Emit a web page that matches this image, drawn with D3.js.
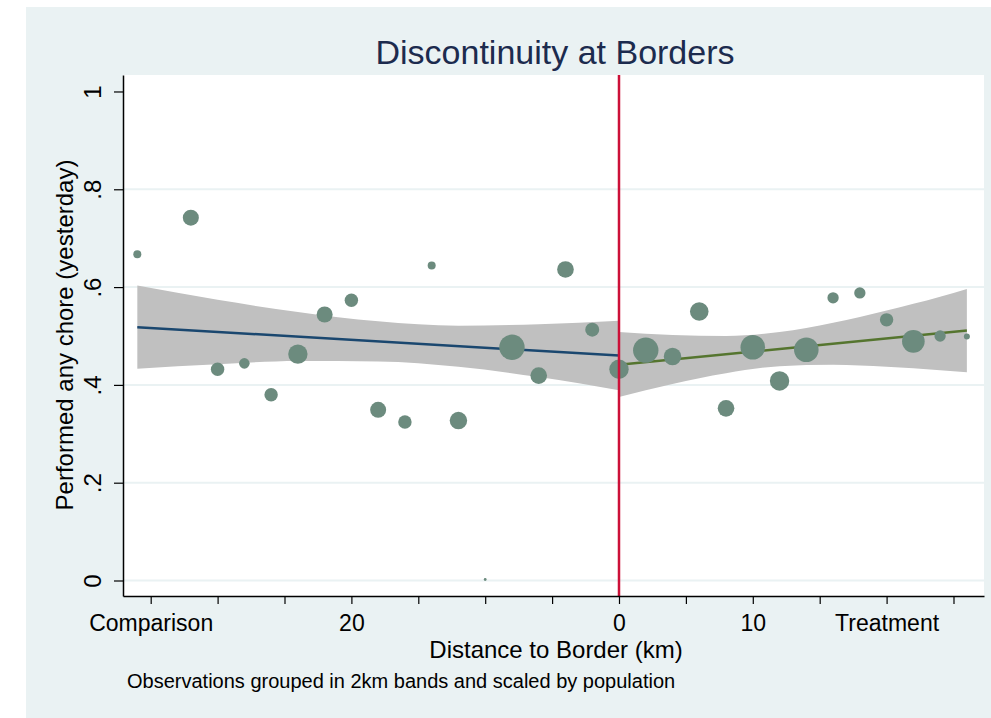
<!DOCTYPE html>
<html>
<head>
<meta charset="utf-8">
<script src="https://cdn.jsdelivr.net/npm/d3@7"></script>
<style>
  body { margin: 0; background: #fff; }
  svg { display: block; font-family: "Liberation Sans", Arial, sans-serif; }
</style>
</head>
<body>
<svg id="chart" width="991" height="718"></svg>
<script>
// binned observations (km from border, comparison side negative)
const bandKm = [-36, -32, -30, -28, -26, -24, -22, -20, -18, -16, -14, -12, -10, -8, -6, -4, -2, 0,
                2, 4, 6, 8, 10, 12, 14, 16, 18, 20, 22, 24, 26];
const choreShare = [0.667, 0.742, 0.432, 0.444, 0.380, 0.463, 0.544, 0.573, 0.349, 0.324, 0.644, 0.327, 0.002, 0.477, 0.419, 0.636, 0.513, 0.432,
                    0.471, 0.458, 0.550, 0.352, 0.477, 0.408, 0.472, 0.578, 0.588, 0.533, 0.489, 0.500, 0.499];
const popWeight = [16, 64, 45, 28, 45, 94, 64, 45, 64, 45, 16, 76, 2, 161, 69, 69, 49, 94,
                   161, 76, 86, 69, 151, 94, 151, 32, 32, 45, 128, 32, 9];

// linear fits
const compFitKm = [-36, 0];
const compFitVal = [0.518, 0.460];
const treatFitKm = [0, 26];
const treatFitVal = [0.441, 0.511];

// confidence bands
const compCiKm = [-36, -30, -24, -18, -12, -6, 0];
const compCiHi = [0.603, 0.574, 0.549, 0.530, 0.521, 0.524, 0.531];
const compCiLo = [0.433, 0.442, 0.449, 0.448, 0.437, 0.416, 0.389];
const treatCiKm = [0, 4, 8, 12, 16, 20, 24, 26];
const treatCiHi = [0.508, 0.502, 0.500, 0.508, 0.527, 0.552, 0.580, 0.596];
const treatCiLo = [0.375, 0.402, 0.424, 0.438, 0.441, 0.437, 0.430, 0.426];

// axes
const xTicks = [-35, -30, -25, -20, -15, -10, -5, 0, 5, 10, 15, 20, 25];
const xTickLabels = ["Comparison", "", "", "20", "", "", "", "0", "", "10", "", "Treatment", ""];
const yTicks = [0, 0.2, 0.4, 0.6, 0.8, 1];
const yTickLabels = ["0", ".2", ".4", ".6", ".8", "1"];

const plot = { left: 123, right: 984, top: 75, bottom: 596 };

const svg = d3.select("#chart");

// outer background
svg.append("rect")
  .attr("x", 26).attr("y", 7)
  .attr("width", 991 - 26).attr("height", 718 - 7)
  .attr("fill", "#eaf2f3");

svg.append("rect")
  .attr("x", plot.left).attr("y", plot.top)
  .attr("width", plot.right - plot.left).attr("height", plot.bottom - plot.top)
  .attr("fill", "#fff");

const x = d3.scaleLinear().domain([-37.07, 27.28]).range([plot.left, plot.right]);
const y = d3.scaleLinear().domain([-0.0317, 1.0337]).range([plot.bottom, plot.top]);
const r = d3.scaleSqrt().domain([0, 161]).range([0, 12.7]);

// gridlines
svg.append("g")
  .selectAll("line")
  .data(yTicks.filter(d => d < 1))
  .join("line")
  .attr("x1", plot.left).attr("x2", plot.right)
  .attr("y1", d => y(d)).attr("y2", d => y(d))
  .attr("stroke", "#eaf2f3").attr("stroke-width", 2);

// CI bands
const area = d3.area()
  .x(d => x(d.km))
  .y0(d => y(d.lo))
  .y1(d => y(d.hi))
  .curve(d3.curveMonotoneX);

const compBand = compCiKm.map((k, i) => ({ km: k, hi: compCiHi[i], lo: compCiLo[i] }));
const treatBand = treatCiKm.map((k, i) => ({ km: k, hi: treatCiHi[i], lo: treatCiLo[i] }));

svg.append("path").datum(compBand).attr("d", area).attr("fill", "#c0c0c0");
svg.append("path").datum(treatBand).attr("d", area).attr("fill", "#c0c0c0");

// fit lines
const line = d3.line().x(d => x(d.km)).y(d => y(d.v));
svg.append("path")
  .datum(compFitKm.map((k, i) => ({ km: k, v: compFitVal[i] })))
  .attr("d", line).attr("fill", "none")
  .attr("stroke", "#1a476f").attr("stroke-width", 2.5);
svg.append("path")
  .datum(treatFitKm.map((k, i) => ({ km: k, v: treatFitVal[i] })))
  .attr("d", line).attr("fill", "none")
  .attr("stroke", "#55752f").attr("stroke-width", 2.5);

// points
svg.append("g")
  .selectAll("circle")
  .data(bandKm.map((k, i) => ({ km: k, v: choreShare[i], w: popWeight[i] })))
  .join("circle")
  .attr("cx", d => x(d.km))
  .attr("cy", d => y(d.v))
  .attr("r", d => r(d.w))
  .attr("fill", "#6c8b7e");

// border line
svg.append("line")
  .attr("x1", x(0)).attr("x2", x(0))
  .attr("y1", plot.top).attr("y2", plot.bottom)
  .attr("stroke", "#cc1038").attr("stroke-width", 2.5);

// x axis
const xAxis = svg.append("g")
  .attr("transform", `translate(0,${plot.bottom})`)
  .call(d3.axisBottom(x).tickValues(xTicks)
    .tickFormat((d, i) => xTickLabels[i])
    .tickSize(8).tickPadding(11).tickSizeOuter(0));
xAxis.select(".domain").attr("stroke", "#000").attr("stroke-width", 1.5);
xAxis.selectAll(".tick line").attr("stroke", "#000").attr("stroke-width", 1.2);
xAxis.selectAll(".tick text").attr("font-size", 23).attr("fill", "#000")
  .attr("font-family", "Liberation Sans, Arial, sans-serif");

// y axis
const yAxis = svg.append("g")
  .attr("transform", `translate(${plot.left},0)`)
  .call(d3.axisLeft(y).tickValues(yTicks)
    .tickFormat((d, i) => yTickLabels[i])
    .tickSize(9).tickSizeOuter(0));
yAxis.select(".domain").attr("stroke", "#000").attr("stroke-width", 1.5);
yAxis.selectAll(".tick line").attr("stroke", "#000").attr("stroke-width", 1.2);
yAxis.selectAll(".tick text")
  .attr("font-size", 24).attr("fill", "#000")
  .attr("font-family", "Liberation Sans, Arial, sans-serif")
  .attr("x", null).attr("dy", null)
  .attr("text-anchor", "middle")
  .attr("transform", "translate(-22,0) rotate(-90)");

// titles
svg.append("text")
  .attr("x", 555).attr("y", 64)
  .attr("text-anchor", "middle")
  .attr("font-size", 34).attr("fill", "#1c2b4e")
  .text("Discontinuity at Borders");

svg.append("text")
  .attr("x", 556).attr("y", 658)
  .attr("text-anchor", "middle")
  .attr("font-size", 24).attr("fill", "#000")
  .text("Distance to Border (km)");

svg.append("text")
  .attr("transform", "translate(73,335) rotate(-90)")
  .attr("text-anchor", "middle")
  .attr("font-size", 24).attr("fill", "#000")
  .text("Performed any chore (yesterday)");

svg.append("text")
  .attr("x", 127).attr("y", 688)
  .attr("font-size", 20).attr("fill", "#000")
  .text("Observations grouped in 2km bands and scaled by population");
</script>
</body>
</html>
